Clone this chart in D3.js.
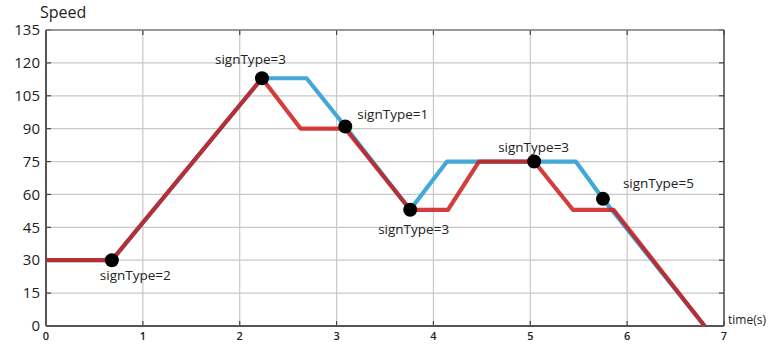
<!DOCTYPE html>
<html>
<head>
<meta charset="utf-8">
<script src="https://cdn.jsdelivr.net/npm/d3@7"></script>
<style>
  body { margin: 0; background: #fff; }
  text { font-family: "Open Sans", sans-serif; fill: #222; }
</style>
</head>
<body>
<div id="chart"></div>
<script>
// values
let xTicks = [0, 1, 2, 3, 4, 5, 6, 7];
let yTicks = [0, 15, 30, 45, 60, 75, 90, 105, 120, 135];

// blue: the speed profile without the early reactions
let blueT = [0, 0.68, 2.23, 2.69, 3.09, 3.76, 4.14, 5.04, 5.47, 5.75, 5.84, 6.80];
let blueV = [30, 30, 113, 113, 91, 53, 75, 75, 75, 58, 53, 0];

// red: reacting to the signs right away
let redT = [0, 0.68, 2.23, 2.63, 3.09, 3.76, 4.15, 4.47, 5.04, 5.44, 5.86, 6.80];
let redV = [30, 30, 113, 90, 90, 53, 53, 75, 75, 53, 53, 0];

let signT = [0.68, 2.23, 3.09, 3.76, 5.04, 5.75];
let signV = [30, 113, 91, 53, 75, 58];
let signLabels = ["signType=2", "signType=3", "signType=1", "signType=3", "signType=3", "signType=5"];
// label offsets from the marker (px)
let labelDx = [-12, -47, 12, -32, -36, 20];
let labelDy = [20, -14, -7, 24, -10, -11];

let dim = {
    width: 775, height: 344,
    margin: { top: 30, right: 51, bottom: 18, left: 46 }
};
dim.plot = {
    width: dim.width - dim.margin.left - dim.margin.right,
    height: dim.height - dim.margin.top - dim.margin.bottom
};

let x = d3.scaleLinear().domain([0, 7]).range([0, dim.plot.width]);
let y = d3.scaleLinear().domain([0, 135]).range([dim.plot.height, 0]);

let svg = d3.select("#chart").append("svg")
        .attr("width", dim.width)
        .attr("height", dim.height);

let g = svg.append("g")
        .attr("transform", "translate(" + dim.margin.left + "," + dim.margin.top + ")");

// grid
g.append("g").selectAll("line").data(yTicks.slice(1, -1)).enter().append("line")
        .attr("x1", 0).attr("x2", dim.plot.width)
        .attr("y1", d => y(d)).attr("y2", d => y(d))
        .attr("stroke", "#c8c8c8").attr("stroke-width", 1.2);
g.append("g").selectAll("line").data(xTicks.slice(1, -1)).enter().append("line")
        .attr("y1", 0).attr("y2", dim.plot.height)
        .attr("x1", d => x(d)).attr("x2", d => x(d))
        .attr("stroke", "#c8c8c8").attr("stroke-width", 1.2);

// inner tick marks on all four sides
let tickLen = 5;
let ticks = g.append("g").attr("stroke", "#444").attr("stroke-width", 1.2);
yTicks.forEach(function(v) {
    ticks.append("line").attr("x1", 0).attr("x2", tickLen).attr("y1", y(v)).attr("y2", y(v));
    ticks.append("line").attr("x1", dim.plot.width - tickLen).attr("x2", dim.plot.width).attr("y1", y(v)).attr("y2", y(v));
});
xTicks.forEach(function(v) {
    ticks.append("line").attr("y1", dim.plot.height).attr("y2", dim.plot.height - tickLen).attr("x1", x(v)).attr("x2", x(v));
    ticks.append("line").attr("y1", 0).attr("y2", tickLen).attr("x1", x(v)).attr("x2", x(v));
});

// frame
g.append("line").attr("x1", 0).attr("x2", dim.plot.width).attr("y1", 0).attr("y2", 0)
        .attr("stroke", "#777").attr("stroke-width", 1.3);
g.append("line").attr("x1", dim.plot.width).attr("x2", dim.plot.width).attr("y1", 0).attr("y2", dim.plot.height)
        .attr("stroke", "#444").attr("stroke-width", 1.5);
g.append("line").attr("x1", 0).attr("x2", 0).attr("y1", 0).attr("y2", dim.plot.height)
        .attr("stroke", "#555").attr("stroke-width", 2);
g.append("line").attr("x1", 0).attr("x2", dim.plot.width).attr("y1", dim.plot.height).attr("y2", dim.plot.height)
        .attr("stroke", "#555").attr("stroke-width", 2);

// tick labels
g.append("g").selectAll("text").data(yTicks).enter().append("text")
        .attr("x", -6).attr("y", d => y(d)).attr("dy", "0.35em")
        .attr("text-anchor", "end").style("font-size", "15px")
        .text(d => d);
g.append("g").selectAll("text").data(xTicks).enter().append("text")
        .attr("x", d => x(d)).attr("y", dim.plot.height + 14)
        .attr("text-anchor", "middle").style("font-size", "11px").style("font-weight", 600)
        .text(d => d);

// titles
g.append("text").attr("x", -6).attr("y", -12).style("font-size", "16px").text("Speed");
g.append("text").attr("x", dim.plot.width + 4).attr("y", dim.plot.height - 2)
        .style("font-size", "12px").text("time(s)");

// lines
let line = d3.line().x(d => x(d[0])).y(d => y(d[1]));

g.append("path")
        .datum(d3.zip(blueT, blueV))
        .attr("d", line)
        .attr("fill", "none")
        .attr("stroke", "#42a8d8")
        .attr("stroke-width", 4.2)
        .attr("stroke-linejoin", "round");

g.append("path")
        .datum(d3.zip(redT, redV))
        .attr("d", line)
        .attr("fill", "none")
        .attr("stroke", "#cc1818")
        .attr("stroke-opacity", 0.84)
        .attr("stroke-width", 4.2)
        .attr("stroke-linejoin", "round");

// sign markers
g.append("g").selectAll("circle").data(d3.zip(signT, signV)).enter().append("circle")
        .attr("cx", d => x(d[0])).attr("cy", d => y(d[1]))
        .attr("r", 7).attr("fill", "#000");

g.append("g").selectAll("text").data(signLabels).enter().append("text")
        .attr("x", (d, i) => x(signT[i]) + labelDx[i])
        .attr("y", (d, i) => y(signV[i]) + labelDy[i])
        .style("font-size", "13.5px")
        .text(d => d);
</script>
</body>
</html>
